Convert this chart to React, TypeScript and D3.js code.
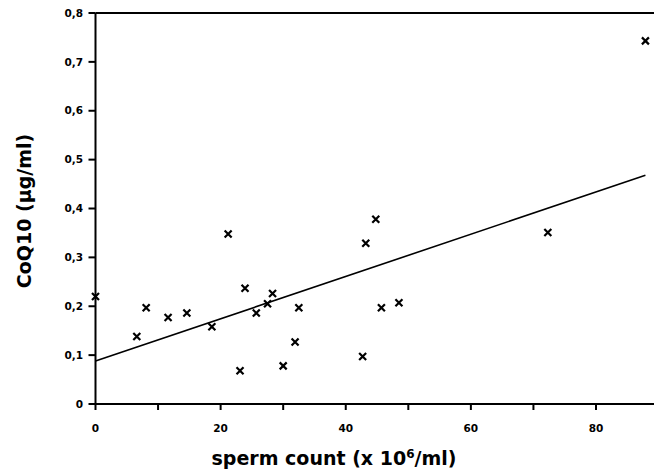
import React from 'react';
import * as d3 from 'd3';

// sperm count (x 10^6/ml) vs CoQ10 (µg/ml)
const spermCount = [0, 6.6, 8.1, 11.6, 14.6, 18.6, 21.2, 23.1, 23.9, 25.7, 27.5, 28.3, 30.0, 31.9, 32.5, 42.7, 43.2, 44.8, 45.7, 48.5, 72.3, 87.9];
const coq10 = [0.22, 0.138, 0.197, 0.177, 0.186, 0.158, 0.348, 0.068, 0.237, 0.186, 0.205, 0.226, 0.078, 0.127, 0.197, 0.097, 0.329, 0.378, 0.197, 0.207, 0.351, 0.743];

// fitted regression line
const fitX = [0, 87.9];
const fitY = [0.088, 0.468];

const xTicks = [0, 10, 20, 30, 40, 50, 60, 70, 80];
const xTickLabels = [0, 20, 40, 60, 80];
const yTicks = [0, 0.1, 0.2, 0.3, 0.4, 0.5, 0.6, 0.7, 0.8];

const W = 654;
const H = 472;
const font = "'DejaVu Sans', sans-serif";

const App = () => {
  const x = d3.scaleLinear().domain([0, 80]).range([95.5, 596]);
  const y = d3.scaleLinear().domain([0, 0.8]).range([404, 13]);
  const x0 = x(0);
  const y0 = y(0);
  const yTop = y(0.8);

  const line = d3
    .line<number>()
    .x((d) => x(d))
    .y((d, i) => y(fitY[i]));

  const fmtY = (v: number) => (v === 0 ? '0' : d3.format('.1f')(v).replace('.', ','));
  const s = 3.5;

  return (
    <svg width={W} height={H} style={{ position: 'absolute', left: 0, top: 0, background: '#fff' }}>
      {/* frame */}
      <line x1={x0} x2={W} y1={yTop} y2={yTop} stroke="#000" strokeWidth={2} />
      <line x1={x0} x2={W} y1={y0} y2={y0} stroke="#000" strokeWidth={2} />
      <line x1={x0} x2={x0} y1={yTop} y2={y0} stroke="#000" strokeWidth={2} />

      {/* y ticks */}
      {yTicks.map((t) => (
        <g key={`y${t}`}>
          <line x1={x0 - 7} x2={x0} y1={y(t)} y2={y(t)} stroke="#000" strokeWidth={2} />
          <text x={83} y={y(t)} dy="0.35em" textAnchor="end" fontFamily={font} fontWeight="bold" fontSize={10.5}>
            {fmtY(t)}
          </text>
        </g>
      ))}

      {/* x ticks */}
      {xTicks.map((t) => (
        <line key={`x${t}`} x1={x(t)} x2={x(t)} y1={y0} y2={y0 + 6} stroke="#000" strokeWidth={2} />
      ))}
      {xTickLabels.map((t) => (
        <text key={`xl${t}`} x={x(t)} y={432} textAnchor="middle" fontFamily={font} fontWeight="bold" fontSize={10.5}>
          {t}
        </text>
      ))}

      {/* regression line */}
      <path d={line(fitX) || ''} fill="none" stroke="#000" strokeWidth={1.6} />

      {/* data points */}
      {spermCount.map((v, i) => {
        const cx = x(v);
        const cy = y(coq10[i]);
        return (
          <path
            key={i}
            d={`M${cx - s},${cy - s}L${cx + s},${cy + s}M${cx - s},${cy + s}L${cx + s},${cy - s}`}
            stroke="#000"
            strokeWidth={2.2}
            fill="none"
          />
        );
      })}

      {/* axis titles */}
      <text x={334} y={465} textAnchor="middle" fontFamily={font} fontWeight="bold" fontSize={19}>
        sperm count (x 10
        <tspan dy={-7} fontSize={12}>6</tspan>
        <tspan dy={7}>/ml)</tspan>
      </text>
      <text
        transform="translate(31,211) rotate(-90)"
        textAnchor="middle"
        fontFamily={font}
        fontWeight="bold"
        fontSize={19}
      >
        CoQ10 (µg/ml)
      </text>
    </svg>
  );
};

export default App;
